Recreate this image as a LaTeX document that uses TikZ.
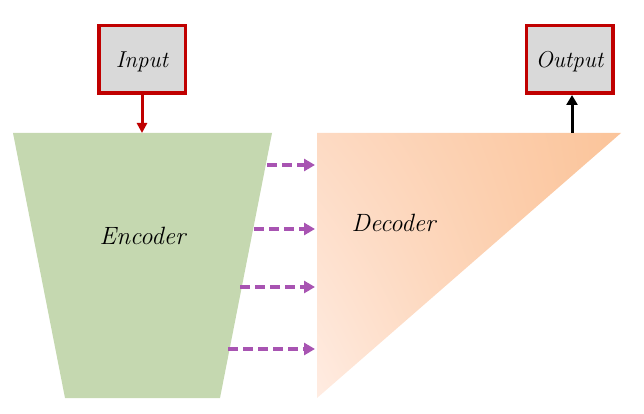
\documentclass[tikz,border=0pt]{standalone}
\usetikzlibrary{arrows.meta,shadings}
\definecolor{encgreen}{RGB}{197,216,176}
\definecolor{boxred}{RGB}{192,0,0}
\definecolor{boxgray}{RGB}{217,217,217}
\definecolor{arrpurple}{RGB}{168,84,178}
\definecolor{decdark}{RGB}{251,196,154}
\definecolor{decmid}{RGB}{253,218,195}
\definecolor{declight}{RGB}{255,236,226}
\tikzset{
  iobox/.style={draw=boxred, line width=3.5pt, fill=boxgray, minimum width=86.5pt, minimum height=67.5pt, inner sep=0pt, text height=16.4pt, text depth=0pt, font=\fontsize{23}{28}\selectfont\itshape},
  skip/.style={draw=arrpurple, line width=3.5pt, dash pattern=on 10pt off 5pt, -{Triangle[length=11pt,width=12pt]}, shorten >=1pt},
  lbl/.style={font=\fontsize{25}{30}\selectfont\itshape, inner sep=0pt, anchor=base}
}
\begin{document}
\begin{tikzpicture}[x=1pt,y=-1pt]
\useasboundingbox (0,0) rectangle (644,414);
% encoder
\coordinate (e1) at (13,133);
\coordinate (e2) at (272,133);
\coordinate (e3) at (220,398);
\coordinate (e4) at (65,398);
\fill[encgreen] (e1) -- (e2) -- (e3) -- (e4) -- cycle;
\node[lbl] (enc) at (142.5,244.3) {Encoder};
% decoder
\coordinate (d1) at (317,133);
\coordinate (d2) at (621,133);
\coordinate (d3) at (317,398);
\shade[upper left=decmid, upper right=decdark, lower left=declight, lower right=decdark] (d1) -- (d2) -- (d3) -- cycle;
\node[lbl] (dec) at (393.5,231.7) {Decoder};
% boxes
\node[iobox] (in) at (142,59.5) {Input};
\node[iobox] (out) at (569.5,59.5) {Output};
\coordinate (inend) at (142,133);
\coordinate (outstart) at (572,133);
\draw[boxred, line width=3pt, -{Triangle[length=10pt,width=10pt]}] (in.south) -- (inend);
\draw[black, line width=3pt, -{Triangle[length=10pt,width=11pt]}] (outstart) -- (out.south -| outstart);
% skip connections
\foreach \y/\xs [count=\i] in {165/267, 229/254, 287/240, 349/228}{
  \coordinate (s\i) at (\xs,\y);
  \coordinate (t\i) at (316,\y);
  \draw[skip] (s\i) -- (t\i);
}
\end{tikzpicture}
\end{document}
